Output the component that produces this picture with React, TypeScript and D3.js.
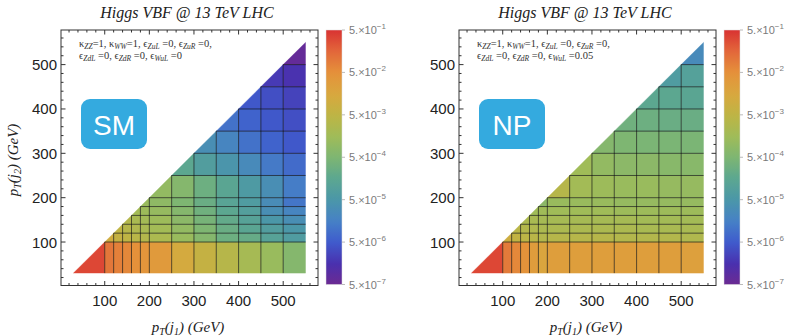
import React from 'react';
import * as d3 from 'd3';

const W = 792;
const H = 336;

// pT bin edges (GeV), same for j1 and j2
const binEdges = [30, 100, 120, 140, 160, 180, 200, 250, 300, 350, 400, 450, 500, 550];
const axisTicks = [100, 200, 300, 400, 500];
const cbarExps = [-1, -2, -3, -4, -5, -6, -7];

// log10 of the bin value; row j = pT(j2) bin, entries run from the diagonal bin to the last pT(j1) bin
const smRows = [
  [-0.5, -1.0, -1.1, -1.2, -1.3, -1.4, -1.5, -1.9, -2.2, -2.45, -2.7, -2.9, -3.2],
  [-2.0, -2.2, -2.3, -2.4, -2.5, -2.6, -2.9, -3.2, -3.55, -3.65, -3.95, -4.15],
  [-2.3, -2.45, -2.55, -2.65, -2.75, -3.0, -3.3, -3.6, -3.85, -4.1, -4.3],
  [-2.5, -2.65, -2.75, -2.85, -3.1, -3.4, -3.7, -3.95, -4.3, -4.5],
  [-2.75, -2.85, -2.95, -3.2, -3.5, -3.8, -4.05, -4.5, -4.7],
  [-2.9, -3.05, -3.3, -3.6, -3.9, -4.15, -4.55, -4.95],
  [-3.0, -3.2, -3.55, -3.85, -4.2, -4.5, -4.85],
  [-3.8, -4.1, -4.35, -4.6, -4.9, -5.1],
  [-4.5, -4.7, -5.0, -5.2, -5.35],
  [-5.0, -5.2, -5.35, -5.45],
  [-5.35, -5.45, -5.6],
  [-5.7, -5.8],
  [-6.2],
];

const npRows = [
  [-0.5, -1.05, -1.2, -1.35, -1.55, -1.75, -1.6, -1.6, -1.6, -1.6, -1.6, -1.6, -1.65],
  [-2.05, -2.25, -2.35, -2.4, -2.5, -2.45, -2.45, -2.45, -2.5, -2.5, -2.5, -2.55],
  [-2.4, -2.5, -2.55, -2.6, -2.6, -2.6, -2.6, -2.6, -2.65, -2.65, -2.65],
  [-2.6, -2.65, -2.7, -2.7, -2.7, -2.7, -2.7, -2.75, -2.75, -2.75],
  [-2.8, -2.8, -2.8, -2.8, -2.8, -2.85, -2.85, -2.85, -2.85],
  [-3.1, -2.9, -2.9, -2.9, -2.95, -2.95, -2.95, -2.95],
  [-2.45, -2.75, -2.85, -2.9, -2.9, -2.95, -2.95],
  [-2.8, -3.0, -3.1, -3.1, -3.15, -3.15],
  [-3.2, -3.3, -3.35, -3.35, -3.35],
  [-3.5, -3.55, -3.6, -3.6],
  [-3.8, -3.8, -3.85],
  [-4.15, -4.0],
  [-4.6],
];

// rainbow colour function, 0 = bottom of the bar (purple), 1 = top (red)
const rainbowPos = [0, 0.08, 0.167, 0.25, 0.333, 0.417, 0.5, 0.583, 0.667, 0.75, 0.833, 0.917, 1];
const rainbowCol = ['#6b2a92', '#4a30ae', '#3f5ccd', '#4681c6', '#4b97a8', '#5ca790', '#7eb672',
  '#a0bc58', '#bfb444', '#d9a73e', '#e5913a', '#e2663a', '#d93232'];

const rainbow = d3.scaleLinear<string>().domain(rainbowPos).range(rainbowCol)
  .interpolate(d3.interpolateRgb).clamp(true);
const logScale = d3.scaleLinear().domain([Math.log10(5e-7), Math.log10(5e-1)]).range([0, 1]);

const serif = '"Liberation Serif", "Times New Roman", serif';
const sans = '"Liberation Sans", Arial, sans-serif';

function Params({ x, y, last }) {
  const lines = [
    [['κ', 0], ['ZZ', 1], ['=1,  κ', 0], ['WW', 1], ['=1,  ϵ', 0], ['ZuL', 1], [' =0,  ϵ', 0], ['ZuR', 1], [' =0,', 0]],
    [['ϵ', 0], ['ZdL', 1], [' =0,  ϵ', 0], ['ZdR', 1], [' =0,  ϵ', 0], ['WuL', 1], [' =' + last, 0]],
  ];
  return (
    <g fontFamily={serif} fill="#333" style={{ whiteSpace: 'pre' }}>
      {lines.map((ln, li) => (
        <text key={li} x={x} y={y + li * 12.5} fontSize={10.5}>
          {ln.map(([s, sub], k) => (
            <tspan key={k} fontStyle={sub ? 'italic' : 'normal'} fontSize={sub ? 7.5 : 10.5}
              dy={sub ? 2 : (k > 0 ? -2 : 0)}>{s}</tspan>
          ))}
        </text>
      ))}
    </g>
  );
}

function AxisLabel({ x, y, sub, rotate }) {
  return (
    <text x={x} y={y} fontFamily={serif} fontStyle="italic" fontSize={15} textAnchor="middle"
      transform={rotate ? `rotate(-90 ${x} ${y})` : undefined} fill="#222">
      p<tspan fontSize={10} dy={3}>T</tspan><tspan dy={-3}>(j</tspan>
      <tspan fontSize={10} dy={3}>{sub}</tspan><tspan dy={-3}>) (GeV)</tspan>
    </text>
  );
}

function Colorbar({ x0, id }) {
  const top = 30, bot = 284.5, w = 16;
  const cy = d3.scaleLinear().domain([Math.log10(5e-7), Math.log10(5e-1)]).range([bot, top]);
  const stops = d3.range(0, 1.0001, 0.02);
  return (
    <g>
      <defs>
        <linearGradient id={id} x1="0" y1="1" x2="0" y2="0">
          {stops.map((t) => <stop key={t} offset={t} stopColor={rainbow(t)} />)}
        </linearGradient>
      </defs>
      <rect x={x0} y={top} width={w} height={bot - top} fill={`url(#${id})`} stroke="#ddd" strokeWidth={0.5} />
      {cbarExps.map((e) => {
        const yy = cy(Math.log10(5 * Math.pow(10, e)));
        return (
          <g key={e}>
            <line x1={x0 + w} x2={x0 + w + 3} y1={yy} y2={yy} stroke="#bbb" />
            <text x={x0 + w + 7} y={yy + 4} fontFamily={sans} fontSize={11} fill="#7a7a7a">
              5.×10<tspan fontSize={8} dy={-5}>{'−' + Math.abs(e)}</tspan>
            </text>
          </g>
        );
      })}
    </g>
  );
}

function Panel({ ox, rows, tag, last, id }) {
  const left = ox + 61, right = ox + 318, top = 30, bottom = 285.5;
  const x = d3.scaleLinear().domain([2, 578]).range([left, right]);
  const y = d3.scaleLinear().domain([2, 578]).range([bottom, top]);
  const line = d3.line();

  const cells = [];
  rows.forEach((row, j) => row.forEach((v, k) => {
    const i = j + k;
    const xa = binEdges[i], xb = binEdges[i + 1], ya = binEdges[j], yb = binEdges[j + 1];
    const pts = i === j ? [[xa, ya], [xb, ya], [xb, yb]] : [[xa, ya], [xb, ya], [xb, yb], [xa, yb]];
    cells.push({ key: `${i}-${j}`, d: line(pts.map(([a, b]) => [x(a), y(b)])) + 'Z', fill: rainbow(logScale(v)) });
  }));

  const inner = binEdges.slice(1, -1);
  const lo = binEdges[0], hi = binEdges[binEdges.length - 1];
  const ticks = d3.range(20, 561, 20);

  return (
    <g>
      <text x={ox + 187} y={18} textAnchor="middle" fontFamily={serif} fontStyle="italic" fontSize={16} fill="#222">
        Higgs VBF @ 13 TeV LHC
      </text>
      <rect x={left} y={top} width={right - left} height={bottom - top} fill="#fff" />
      {cells.map((c) => <path key={c.key} d={c.d} fill={c.fill} stroke={c.fill} strokeWidth={0.4} />)}
      <g stroke="#111" strokeOpacity={0.65} strokeWidth={1}>
        {inner.map((e) => <line key={'v' + e} x1={x(e)} x2={x(e)} y1={y(lo)} y2={y(e)} />)}
        {inner.map((e) => <line key={'h' + e} x1={x(e)} x2={x(hi)} y1={y(e)} y2={y(e)} />)}
      </g>
      <g stroke="#333" strokeWidth={1}>
        {ticks.map((t) => {
          const len = t % 100 === 0 ? 4.5 : 2.5;
          return (
            <g key={t}>
              <line x1={x(t)} x2={x(t)} y1={bottom} y2={bottom - len} />
              <line x1={x(t)} x2={x(t)} y1={top} y2={top + len} />
              <line x1={left} x2={left + len} y1={y(t)} y2={y(t)} />
              <line x1={right} x2={right - len} y1={y(t)} y2={y(t)} />
            </g>
          );
        })}
      </g>
      <rect x={left} y={top} width={right - left} height={bottom - top} fill="none" stroke="#333" strokeWidth={1} />
      <g fontFamily={sans} fontSize={15} fill="#222">
        {axisTicks.map((t) => (
          <text key={'x' + t} x={x(t)} y={306} textAnchor="middle">{t}</text>
        ))}
        {axisTicks.map((t) => (
          <text key={'y' + t} x={left - 4} y={y(t) + 5.5} textAnchor="end">{t}</text>
        ))}
      </g>
      <Params x={ox + 79} y={46.5} last={last} />
      <rect x={ox + 81} y={99} width={66} height={50} rx={9} fill="#34aadf" />
      <text x={ox + 114} y={135} textAnchor="middle" fontFamily={sans} fontSize={28} fill="#fff">{tag}</text>
      <AxisLabel x={ox + 188} y={332} sub="1" />
      {ox === 0 && <AxisLabel x={18} y={160} sub="2" rotate />}
      <Colorbar x0={ox + 326} id={id} />
    </g>
  );
}

export default function App() {
  return (
    <svg width={W} height={H} style={{ position: 'absolute', left: 0, top: 0, background: '#fff' }}>
      <rect width={W} height={H} fill="#fff" />
      <Panel ox={0} rows={smRows} tag="SM" last="0" id="cbL" />
      <Panel ox={398} rows={npRows} tag="NP" last="0.05" id="cbR" />
    </svg>
  );
}
